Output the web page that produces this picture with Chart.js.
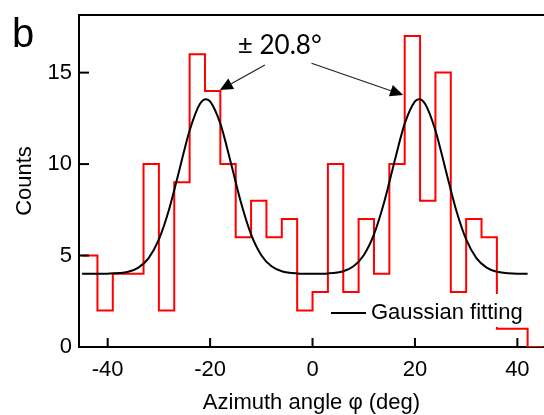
<!DOCTYPE html>
<html>
<head>
<meta charset="utf-8">
<script src="https://cdn.jsdelivr.net/npm/chart.js@4.4.1/dist/chart.umd.min.js"></script>
<style>
  html, body { margin: 0; padding: 0; background: #fff; }
  #wrap { width: 544px; height: 415px; }
</style>
</head>
<body>
<div id="wrap"><canvas id="chart"></canvas></div>
<script>
// Histograma: bordes de bins (deg) y cuentas
const binEdges = [-45, -42, -39, -36, -33, -30, -27, -24, -21, -18, -15, -12, -9, -6, -3,
                  0, 3, 6, 9, 12, 15, 18, 21, 24, 27, 30, 33, 36, 39, 42, 45];
const counts = [5, 2, 4, 4, 10, 2, 9, 16, 14, 10, 6, 8, 6, 7, 2,
                3, 10, 3, 7, 4, 10, 17, 8, 15, 3, 7, 6, 1, 1, 0];

// Curva de ajuste gaussiano
const gaussX = [-45, -40, -36, -34, -32, -30, -28, -26, -24, -22, -20.8, -20, -18, -16, -14, -12, -10, -8, -6, -3,
                0, 3, 6, 8, 10, 12, 14, 16, 18, 20, 20.8, 22, 24, 26, 28, 30, 32, 34, 36, 40, 42];
const gaussY = [4.0, 4.01, 4.11, 4.34, 4.86, 5.88, 7.53, 9.68, 11.84, 13.29, 13.55, 13.43, 12.21, 10.13, 7.93, 6.16, 5.02, 4.41, 4.14, 4.02,
                4.0, 4.02, 4.14, 4.41, 5.02, 6.16, 7.93, 10.13, 12.21, 13.43, 13.55, 13.29, 11.84, 9.68, 7.53, 5.88, 4.86, 4.34, 4.11, 4.01, 4.0];

const xTicks = [-40, -20, 0, 20, 40];
const yTicks = [0, 5, 10, 15];

const histPoints = binEdges.map((e, i) => ({ x: e, y: counts[Math.min(i, counts.length - 1)] }));
const gaussPoints = gaussX.map((v, i) => ({ x: v, y: gaussY[i] }));

// Flechas y texto de anotacion (en unidades de datos)
const note = { text: '\u00B1 20.8\u00B0', x: -6.4, y: 16.5 };
const arrows = [
    { from: [-9.3, 15.42], to: [-18.1, 14.05] },
    { from: [-0.2, 15.51], to: [17.7, 13.78] }
];

function arrow(ctx, x1, y1, x2, y2) {
    const ang = Math.atan2(y2 - y1, x2 - x1);
    const len = 13, hw = 6;
    const bx = x2 - len * Math.cos(ang), by = y2 - len * Math.sin(ang);
    ctx.beginPath();
    ctx.moveTo(x1, y1);
    ctx.lineTo(bx, by);
    ctx.stroke();
    ctx.beginPath();
    ctx.moveTo(x2, y2);
    ctx.lineTo(bx + hw * Math.sin(ang), by - hw * Math.cos(ang));
    ctx.lineTo(bx - hw * Math.sin(ang), by + hw * Math.cos(ang));
    ctx.closePath();
    ctx.fill();
}

const decor = {
    id: 'decor',
    afterDatasetsDraw(chart) {
        const { ctx, chartArea: a, scales: { x, y } } = chart;
        ctx.save();
        ctx.strokeStyle = '#000';
        ctx.fillStyle = '#000';
        ctx.lineWidth = 2;
        // marco superior
        ctx.beginPath();
        ctx.moveTo(a.left, a.top);
        ctx.lineTo(a.right, a.top);
        ctx.stroke();
        // ticks hacia adentro
        yTicks.forEach(v => {
            const py = y.getPixelForValue(v);
            ctx.beginPath(); ctx.moveTo(a.left, py); ctx.lineTo(a.left + 10, py); ctx.stroke();
        });
        xTicks.forEach(v => {
            const px = x.getPixelForValue(v);
            ctx.beginPath(); ctx.moveTo(px, a.bottom); ctx.lineTo(px, a.bottom - 9); ctx.stroke();
        });

        // leyenda con fondo blanco
        const lx = a.right - 219, ly = a.bottom - 53;
        ctx.fillStyle = '#fff';
        ctx.fillRect(lx, ly, 212, 33);
        ctx.fillStyle = '#000';
        ctx.beginPath(); ctx.moveTo(lx + 6, ly + 19); ctx.lineTo(lx + 41, ly + 19); ctx.stroke();
        ctx.font = '22px "Liberation Sans", Arial, sans-serif';
        ctx.textAlign = 'left';
        ctx.textBaseline = 'alphabetic';
        ctx.fillText('Gaussian fitting', lx + 46, ly + 25);

        // anotacion
        ctx.lineWidth = 1.2;
        ctx.strokeStyle = '#222';
        ctx.fillStyle = '#000';
        arrows.forEach(ar => {
            arrow(ctx, x.getPixelForValue(ar.from[0]), y.getPixelForValue(ar.from[1]),
                       x.getPixelForValue(ar.to[0]), y.getPixelForValue(ar.to[1]));
        });
        ctx.font = '26px Lato, "Open Sans", sans-serif';
        ctx.textAlign = 'center';
        ctx.textBaseline = 'middle';
        ctx.fillText(note.text, x.getPixelForValue(note.x), y.getPixelForValue(note.y));

        // etiqueta del panel
        ctx.font = '40px "Liberation Sans", Arial, sans-serif';
        ctx.textAlign = 'left';
        ctx.textBaseline = 'alphabetic';
        ctx.fillText('b', 12, 47);
        ctx.restore();
    }
};

Chart.defaults.font.family = '"Liberation Sans", Arial, sans-serif';
Chart.defaults.font.size = 22;
Chart.defaults.color = '#000';

new Chart(document.getElementById('chart'), {
    type: 'line',
    data: {
        datasets: [
            {
                label: 'Gaussian fitting',
                data: gaussPoints,
                borderColor: '#000',
                borderWidth: 2,
                pointRadius: 0,
                cubicInterpolationMode: 'monotone',
                fill: false
            },
            {
                label: 'Counts',
                data: histPoints,
                borderColor: '#ff0000',
                borderWidth: 2,
                pointRadius: 0,
                stepped: true,
                fill: false
            }
        ]
    },
    options: {
        responsive: true,
        maintainAspectRatio: false,
        animation: false,
        layout: { padding: { top: 15, right: 0, left: 0, bottom: 0 } },
        plugins: {
            legend: { display: false },
            tooltip: { enabled: false }
        },
        scales: {
            x: {
                type: 'linear',
                min: -45.6,
                max: 45.2,
                afterBuildTicks: s => { s.ticks = xTicks.map(v => ({ value: v })); },
                afterFit: s => { s.height = 68; s.paddingLeft = 0; s.paddingRight = 0; },
                ticks: { padding: 10, maxRotation: 0, includeBounds: false },
                grid: { display: false, drawTicks: false },
                border: { display: true, color: '#000', width: 2 },
                title: { display: true, text: 'Azimuth angle \u03C6 (deg)', padding: { top: 0, bottom: -1 } }
            },
            y: {
                min: 0,
                max: 18.15,
                afterBuildTicks: s => { s.ticks = yTicks.map(v => ({ value: v })); },
                afterFit: s => { s.width = 79; s.paddingTop = 0; s.paddingBottom = 0; },
                ticks: { padding: 7, includeBounds: false },
                grid: { display: false, drawTicks: false },
                border: { display: true, color: '#000', width: 2 },
                title: { display: true, text: 'Counts', padding: { top: 12, bottom: 0 } }
            }
        }
    },
    plugins: [decor]
});
</script>
</body>
</html>
